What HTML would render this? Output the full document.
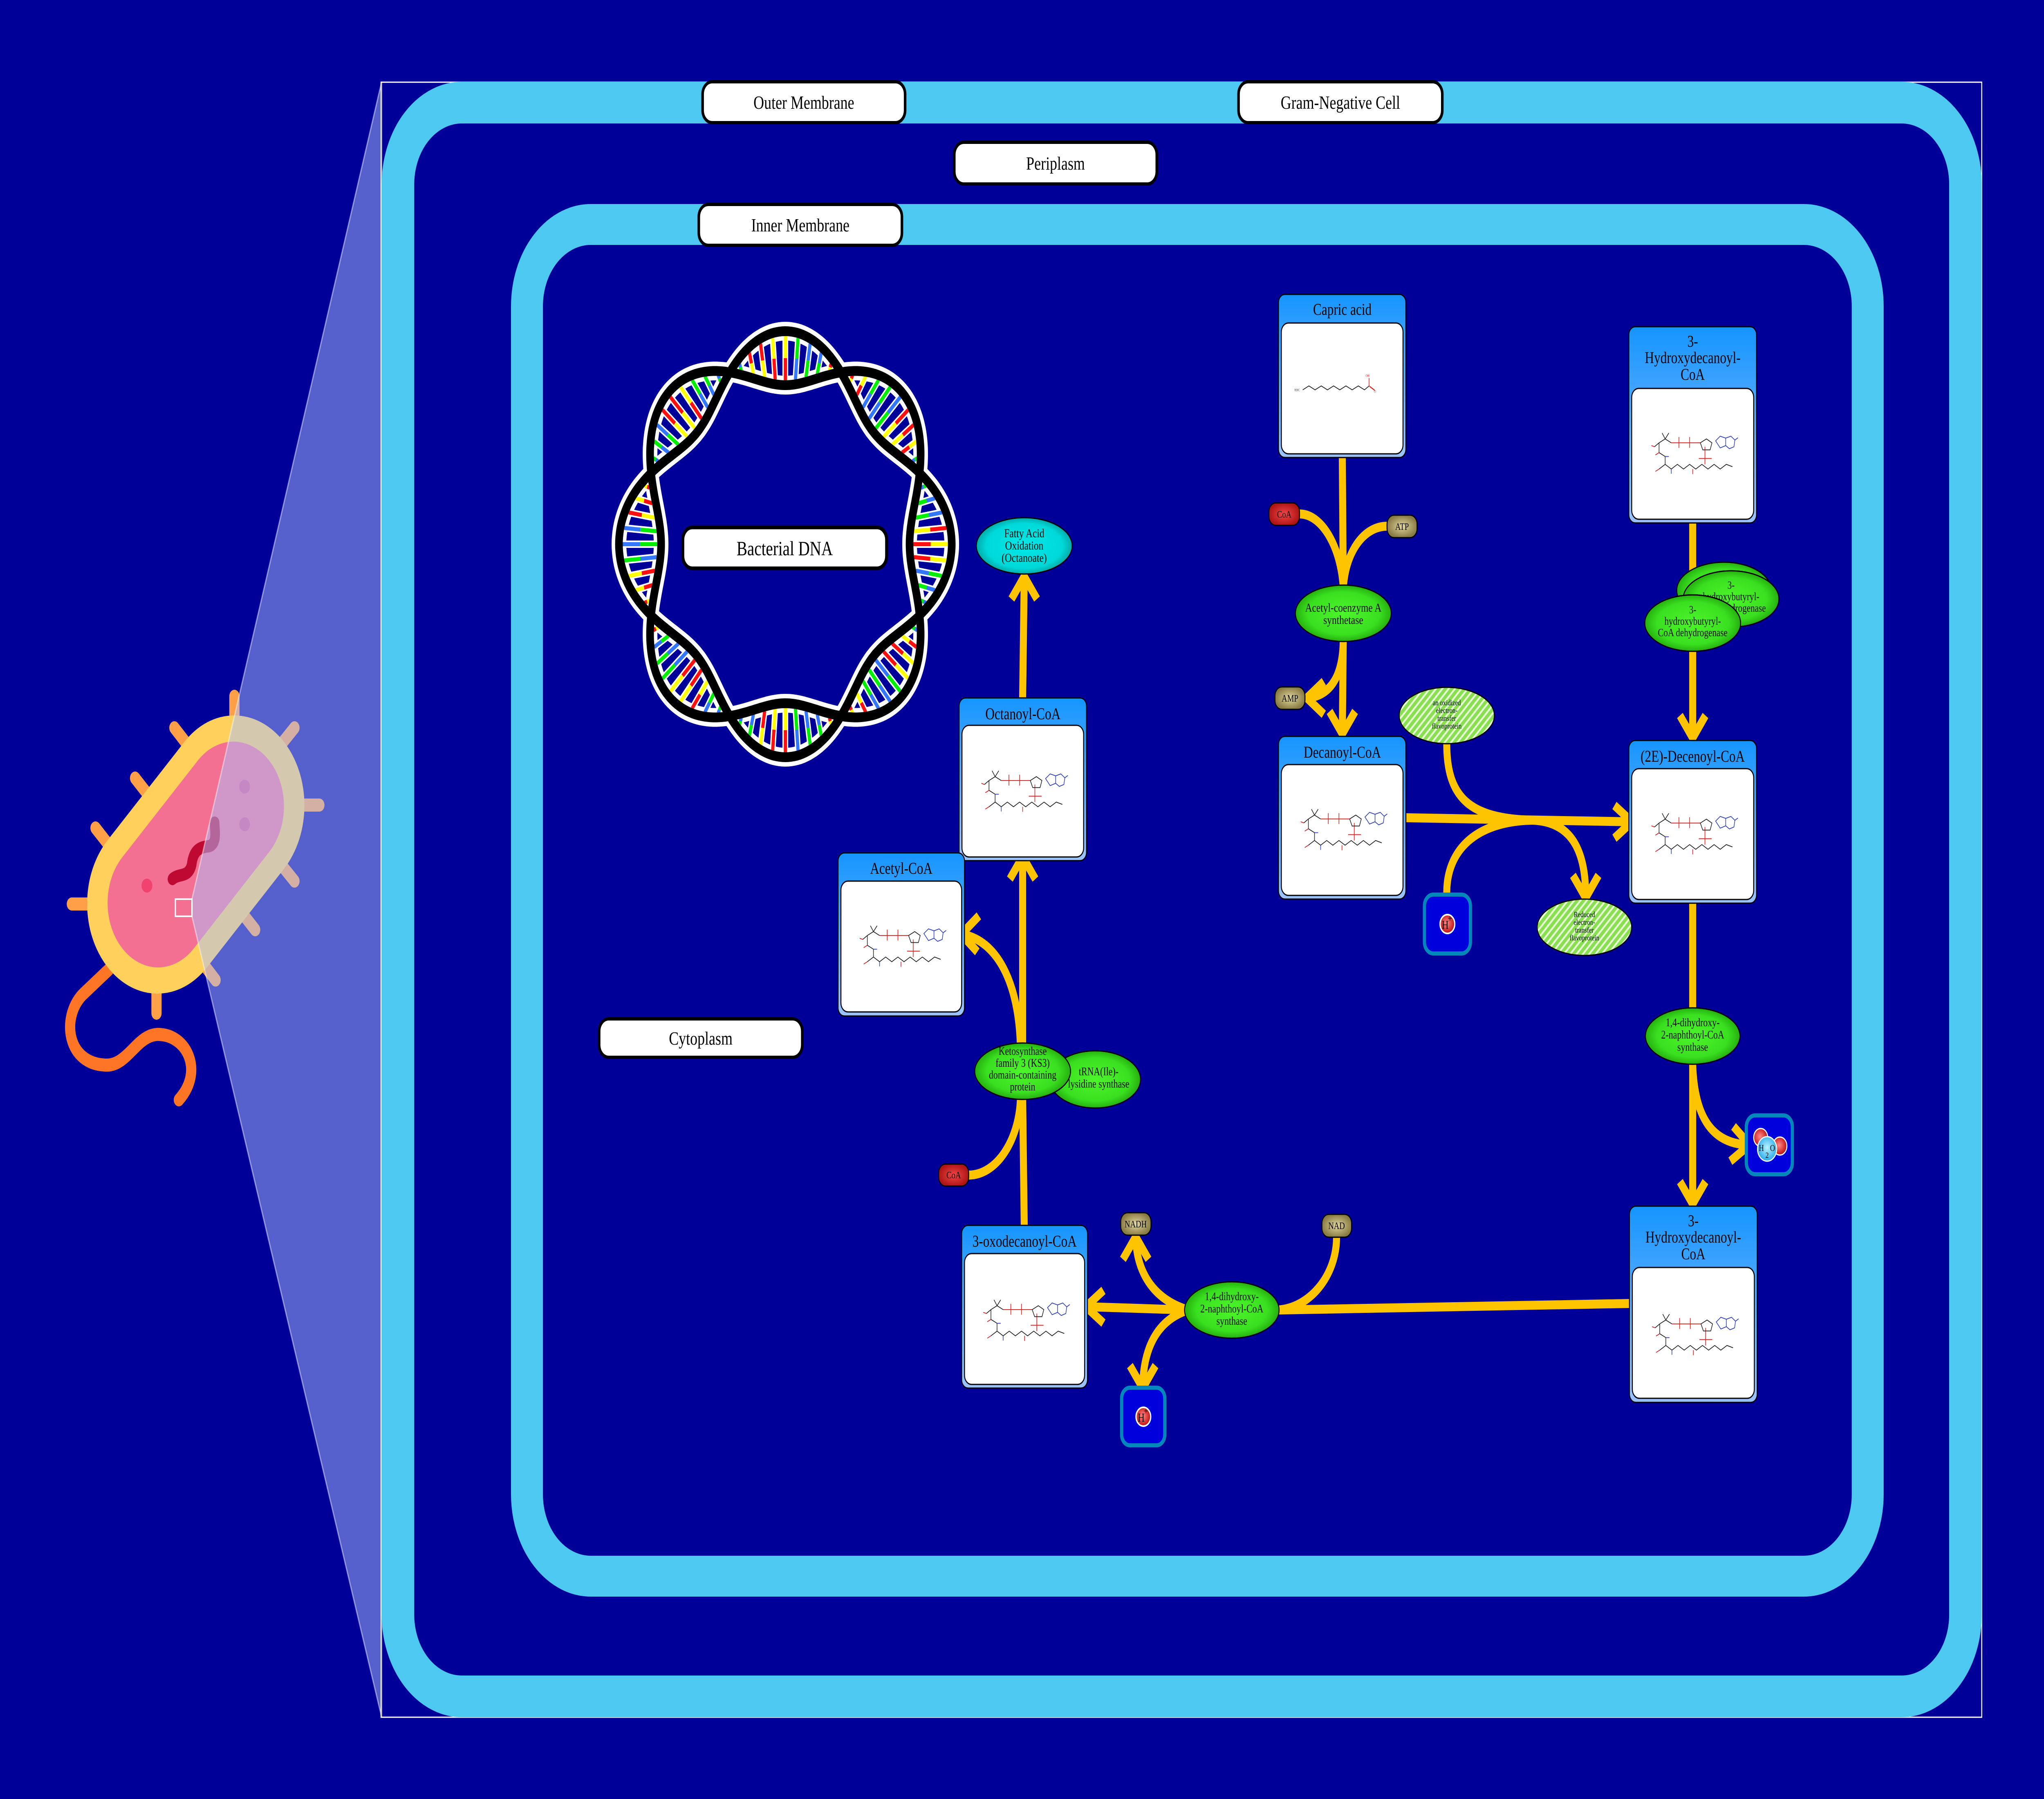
<!DOCTYPE html>
<html><head><meta charset="utf-8">
<style>
html,body{margin:0;padding:0;background:#000099;overflow:hidden;width:100%;height:100%;}
svg{display:block;width:100vw;height:100vh;}
text{font-family:"Liberation Serif",serif;fill:#000;}
</style></head>
<body>
<svg id="S" viewBox="0 0 6400 4400" preserveAspectRatio="none" xmlns="http://www.w3.org/2000/svg">
<defs>
 <linearGradient id="boxg" x1="0" y1="0" x2="0" y2="1">
  <stop offset="0" stop-color="#1595FF"/><stop offset="1" stop-color="#9CC3FF"/>
 </linearGradient>
 <radialGradient id="grn" cx="0.5" cy="0.5" r="0.5">
  <stop offset="0" stop-color="#4CF52A"/><stop offset="0.75" stop-color="#3AE020"/><stop offset="1" stop-color="#26B010"/>
 </radialGradient>
 <radialGradient id="cyn" cx="0.5" cy="0.5" r="0.5">
  <stop offset="0" stop-color="#00E8E8"/><stop offset="0.8" stop-color="#00D8D8"/><stop offset="1" stop-color="#00AAAA"/>
 </radialGradient>
 <radialGradient id="red" cx="0.5" cy="0.5" r="0.5">
  <stop offset="0" stop-color="#F04848"/><stop offset="1" stop-color="#B01515"/>
 </radialGradient>
 <radialGradient id="tan" cx="0.5" cy="0.5" r="0.5">
  <stop offset="0" stop-color="#E2D8A0"/><stop offset="1" stop-color="#8A7C45"/>
 </radialGradient>
 <radialGradient id="ball" cx="0.45" cy="0.45" r="0.55">
  <stop offset="0" stop-color="#FF8888"/><stop offset="1" stop-color="#C01010"/>
 </radialGradient>
 <radialGradient id="cball" cx="0.5" cy="0.45" r="0.55">
  <stop offset="0" stop-color="#B8F4FF"/><stop offset="1" stop-color="#2AA8E8"/>
 </radialGradient>
 <pattern id="hatch" width="14" height="14" patternUnits="userSpaceOnUse" patternTransform="rotate(-45)">
  <rect width="14" height="14" fill="#88E050"/><rect width="14" height="5" fill="#E8FFD8"/>
 </pattern>
 <symbol id="mol" viewBox="0 0 300 140">
  <g fill="none" stroke-width="2">
   <path d="M25,55 L40,45 L60,35 L80,45 M60,35 L50,20 M60,35 L72,20 M40,45 L40,70 L60,80 L60,100 L40,112 M60,100 L80,112 L100,100 L120,112 L140,100 L160,112 L180,100 L200,112 L220,100 L240,112 L260,100 L280,106" stroke="#222"/>
   <path d="M80,45 L175,45 M105,30 L105,58 M140,30 L140,58 M25,55 L15,52 M40,70 L28,76 M40,112 L28,118 M150,112 L150,125 M190,55 L190,85 L170,85 M190,85 L212,85 M190,85 L190,100" stroke="#E02020"/>
   <path d="M175,45 L195,35 L213,45 L207,63 L183,63 Z" stroke="#222"/>
   <path d="M225,40 L240,28 L258,33 L258,52 L240,58 Z M258,33 L275,28 L288,38 L285,55 L270,60 L258,52 M288,38 L298,32 M60,80 L72,80 M80,112 L80,124" stroke="#3040C0"/>
  </g>
 </symbol>
 <symbol id="capric" viewBox="0 0 300 80">
  <g fill="none" stroke-width="2">
   <path d="M30,55 L50,45 L70,55 L90,45 L110,55 L130,45 L150,55 L170,45 L190,55 L210,45 L230,55 L245,45" stroke="#222"/>
   <path d="M245,45 L245,25 M245,45 L262,55 M247,47 L264,57" stroke="#E02020"/>
  </g>
  <text x="12" y="58" font-size="9" style="fill:#222">H3C</text>
  <text x="240" y="22" font-size="9" style="fill:#E02020">OH</text>
  <text x="264" y="62" font-size="9" style="fill:#E02020">O</text>
 </symbol>
</defs>

<rect x="0" y="0" width="6400" height="4400" fill="#000099"/>

<!-- Bacterium on the left -->
<g stroke="#FFA048" stroke-width="32" stroke-linecap="round">
 <line x1="734" y1="1703" x2="734" y2="1830"/>
 <line x1="546" y1="1780" x2="620" y2="1855"/>
 <line x1="423" y1="1903" x2="500" y2="1980"/>
 <line x1="299" y1="2025" x2="376" y2="2102"/>
 <line x1="225" y1="2211" x2="330" y2="2211"/>
 <line x1="490" y1="2478" x2="490" y2="2380"/>
 <line x1="1000" y1="1969" x2="900" y2="1969"/>
 <line x1="922" y1="1780" x2="850" y2="1850"/>
 <line x1="922" y1="2155" x2="850" y2="2085"/>
 <line x1="799" y1="2274" x2="720" y2="2195"/>
 <line x1="675" y1="2397" x2="600" y2="2320"/>
</g>
<path d="M340,2372 L258,2433 C190,2490 210,2605 335,2605 C400,2605 430,2530 495,2530 C585,2530 640,2620 560,2690" fill="none" stroke="#FF7526" stroke-width="32" stroke-linecap="round"/>
<g transform="translate(613,2090) rotate(-45)">
 <rect x="-390" y="-220" width="780" height="440" rx="220" fill="#FFD15C"/>
 <rect x="-325" y="-158" width="650" height="316" rx="158" fill="#F47093"/>
</g>
<circle cx="460" cy="2166" r="17" fill="#F0436D"/>
<circle cx="766" cy="1924" r="17" fill="#E0508A"/>
<circle cx="766" cy="2016" r="17" fill="#E0508A"/>
<path d="M540,2150 C560,2135 590,2148 600,2115 C605,2082 622,2072 652,2070 C682,2066 672,2030 672,2012" fill="none" stroke="#BE0A32" stroke-width="30" stroke-linecap="round"/>
<polygon points="601,2199 1195,200 1195,4200 601,2241" fill="rgba(170,192,255,0.5)" stroke="rgba(255,255,255,0.45)" stroke-width="4"/>
<rect x="549" y="2199" width="52" height="42" fill="none" stroke="#fff" stroke-width="4"/>

<!-- Frame & membranes -->
<rect x="1193" y="201" width="5012" height="3999" fill="none" stroke="#fff" stroke-width="3"/>
<rect x="1246" y="251" width="4908" height="3898" rx="200" fill="none" stroke="#4DC8F0" stroke-width="102"/>
<rect x="1650" y="549" width="4198" height="3306" rx="200" fill="none" stroke="#4DC8F0" stroke-width="100"/>

<!-- Compartment labels -->
<g font-size="46" text-anchor="middle">
 <rect x="2200" y="200" width="634" height="100" rx="30" fill="#fff" stroke="#000" stroke-width="8"/>
 <text x="2517" y="266">Outer Membrane</text>
 <rect x="3878" y="200" width="638" height="100" rx="30" fill="#fff" stroke="#000" stroke-width="8"/>
 <text x="4197" y="266">Gram-Negative Cell</text>
 <rect x="2988" y="348" width="634" height="102" rx="30" fill="#fff" stroke="#000" stroke-width="8"/>
 <text x="3305" y="415">Periplasm</text>
 <rect x="2188" y="500" width="636" height="100" rx="30" fill="#fff" stroke="#000" stroke-width="8"/>
 <text x="2506" y="566">Inner Membrane</text>
 <rect x="1876" y="2492" width="636" height="94" rx="30" fill="#fff" stroke="#000" stroke-width="8"/>
 <text x="2194" y="2555">Cytoplasm</text>
</g>

<!-- DNA (generated) -->
<g id="dna"></g>
<rect x="2138" y="1290" width="638" height="100" rx="30" fill="#fff" stroke="#000" stroke-width="9"/>
<text x="2457" y="1358" font-size="50" text-anchor="middle">Bacterial DNA</text>

<!-- Edges -->
<g fill="none" stroke="#FFC400" stroke-width="22" stroke-linejoin="miter" stroke-linecap="butt">
 <path d="M4203,1119 L4206,1440"/>
 <path d="M4069,1257 C4140,1257 4200,1340 4206,1440"/>
 <path d="M4343,1287 C4270,1287 4212,1350 4206,1440"/>
 <path d="M4206,1560 L4203,1795"/>
 <polyline points="4163,1740 4203,1795 4243,1740"/>
 <path d="M4206,1560 C4206,1650 4170,1700 4095,1707"/>
 <polyline points="4145,1667 4092,1707 4145,1747"/>
 <path d="M4402,2000 L5108,2010"/>
 <polyline points="5055,1970 5110,2010 5055,2050"/>
 <path d="M4530,1819 C4530,1950 4600,2003 4800,2006"/>
 <path d="M4530,2183 C4530,2080 4620,2008 4800,2006"/>
 <path d="M4800,2006 C4920,2010 4965,2080 4965,2192"/>
 <polyline points="4925,2141 4965,2196 5005,2141"/>
 <path d="M5300,1279 L5300,1805"/>
 <polyline points="5260,1750 5300,1805 5340,1750"/>
 <path d="M5300,2209 L5300,2945"/>
 <polyline points="5260,2890 5300,2945 5340,2890"/>
 <path d="M5300,2603 C5305,2720 5350,2795 5470,2800"/>
 <polyline points="5428,2755 5478,2800 5418,2840"/>
 <path d="M5105,3188 L4005,3204"/>
 <path d="M4185,3026 C4185,3120 4100,3200 4000,3204"/>
 <path d="M3720,3204 L3402,3196"/>
 <polyline points="3455,3156 3400,3196 3455,3236"/>
 <path d="M3720,3204 C3620,3180 3560,3120 3556,3028"/>
 <polyline points="3516,3080 3556,3025 3596,3080"/>
 <path d="M3720,3204 C3620,3230 3580,3300 3578,3392"/>
 <polyline points="3538,3340 3578,3395 3618,3340"/>
 <path d="M3207,2997 L3202,2680"/>
 <path d="M3202,2560 L3202,2097"/>
 <polyline points="3162,2150 3202,2095 3242,2150"/>
 <path d="M3033,2874 C3120,2874 3190,2790 3195,2689"/>
 <path d="M3195,2560 C3190,2400 3120,2300 3012,2285"/>
 <polyline points="3065,2240 3010,2285 3060,2328"/>
 <path d="M3202,1707 L3207,1412"/>
 <polyline points="3167,1465 3207,1410 3247,1465"/>
</g>

<!-- Entity boxes -->
<g font-size="40" text-anchor="middle">
 <rect x="4003" y="720" width="399" height="399" rx="20" fill="url(#boxg)" stroke="#000" stroke-width="3"/>
 <rect x="4012" y="790" width="381" height="320" rx="22" fill="#fff" stroke="#000" stroke-width="3"/>
 <text x="4203" y="770">Capric acid</text>
 <use href="#capric" x="4050" y="900" width="290" height="78"/>
 <rect x="4003" y="1801" width="399" height="398" rx="20" fill="url(#boxg)" stroke="#000" stroke-width="3"/>
 <rect x="4012" y="1870" width="381" height="320" rx="22" fill="#fff" stroke="#000" stroke-width="3"/>
 <text x="4203" y="1853">Decanoyl-CoA</text>
 <use href="#mol" x="4058" y="1960" width="288" height="134"/>
 <rect x="3003" y="1707" width="399" height="398" rx="20" fill="url(#boxg)" stroke="#000" stroke-width="3"/>
 <rect x="3012" y="1774" width="381" height="322" rx="22" fill="#fff" stroke="#000" stroke-width="3"/>
 <text x="3203" y="1759">Octanoyl-CoA</text>
 <use href="#mol" x="3058" y="1866" width="288" height="134"/>
 <rect x="2624" y="2086" width="396" height="399" rx="20" fill="url(#boxg)" stroke="#000" stroke-width="3"/>
 <rect x="2633" y="2155" width="378" height="320" rx="22" fill="#fff" stroke="#000" stroke-width="3"/>
 <text x="2822" y="2137">Acetyl-CoA</text>
 <use href="#mol" x="2676" y="2245" width="290" height="134"/>
 <rect x="3011" y="2997" width="394" height="398" rx="20" fill="url(#boxg)" stroke="#000" stroke-width="3"/>
 <rect x="3020" y="3066" width="376" height="320" rx="22" fill="#fff" stroke="#000" stroke-width="3"/>
 <text x="3208" y="3049">3-oxodecanoyl-CoA</text>
 <use href="#mol" x="3064" y="3160" width="288" height="134"/>
 <rect x="5100" y="799" width="400" height="480" rx="20" fill="url(#boxg)" stroke="#000" stroke-width="3"/>
 <rect x="5109" y="950" width="382" height="320" rx="22" fill="#fff" stroke="#000" stroke-width="3"/>
 <text x="5300" y="848">3-</text>
 <text x="5300" y="888">Hydroxydecanoyl-</text>
 <text x="5300" y="929">CoA</text>
 <use href="#mol" x="5156" y="1040" width="288" height="134"/>
 <rect x="5100" y="1811" width="400" height="398" rx="20" fill="url(#boxg)" stroke="#000" stroke-width="3"/>
 <rect x="5109" y="1880" width="382" height="320" rx="22" fill="#fff" stroke="#000" stroke-width="3"/>
 <text x="5300" y="1863">(2E)-Decenoyl-CoA</text>
 <use href="#mol" x="5156" y="1970" width="288" height="134"/>
 <rect x="5102" y="2950" width="400" height="480" rx="20" fill="url(#boxg)" stroke="#000" stroke-width="3"/>
 <rect x="5111" y="3100" width="382" height="320" rx="22" fill="#fff" stroke="#000" stroke-width="3"/>
 <text x="5302" y="2999">3-</text>
 <text x="5302" y="3039">Hydroxydecanoyl-</text>
 <text x="5302" y="3080">CoA</text>
 <use href="#mol" x="5158" y="3195" width="288" height="134"/>
</g>

<!-- Enzymes / ellipses -->
<g stroke="#000" stroke-width="3" text-anchor="middle">
 <ellipse cx="3207" cy="1335" rx="150" ry="69" fill="url(#cyn)"/>
 <ellipse cx="4206" cy="1500" rx="150" ry="69" fill="url(#grn)"/>
 <ellipse cx="4530" cy="1750" rx="149" ry="69" fill="url(#hatch)"/>
 <ellipse cx="4961" cy="2268" rx="148" ry="69" fill="url(#hatch)"/>
 <ellipse cx="5398" cy="1444" rx="148" ry="69" fill="url(#grn)"/>
 <ellipse cx="5420" cy="1465" rx="150" ry="69" fill="url(#grn)"/>
 <ellipse cx="5300" cy="1524" rx="150" ry="69" fill="url(#grn)"/>
 <ellipse cx="5300" cy="2534" rx="148" ry="69" fill="url(#grn)"/>
 <ellipse cx="3429" cy="2640" rx="142" ry="70" fill="url(#grn)"/>
 <ellipse cx="3857" cy="3204" rx="148" ry="69" fill="url(#grn)"/>
</g>
<g text-anchor="middle">
 <g font-size="30"><text x="3207" y="1314">Fatty Acid</text><text x="3207" y="1344">Oxidation</text><text x="3207" y="1374">(Octanoate)</text></g>
 <g font-size="30"><text x="4206" y="1496">Acetyl-coenzyme A</text><text x="4206" y="1526">synthetase</text></g>
 <g font-size="19"><text x="4530" y="1725">an oxidized</text><text x="4530" y="1744">electron-</text><text x="4530" y="1763">transfer</text><text x="4530" y="1782">flavoprotein</text></g>
 <g font-size="19"><text x="4961" y="2243">Reduced</text><text x="4961" y="2262">electron-</text><text x="4961" y="2281">transfer</text><text x="4961" y="2300">flavoprotein</text></g>
 <g font-size="27"><text x="5420" y="1440">3-</text><text x="5420" y="1468">hydroxybutyryl-</text><text x="5420" y="1496">CoA dehydrogenase</text></g>
</g>
<ellipse cx="5300" cy="1524" rx="150" ry="69" fill="url(#grn)" stroke="#000" stroke-width="3"/>
<g text-anchor="middle">
 <g font-size="27"><text x="5300" y="1500">3-</text><text x="5300" y="1528">hydroxybutyryl-</text><text x="5300" y="1556">CoA dehydrogenase</text></g>
 <g font-size="28"><text x="5300" y="2510">1,4-dihydroxy-</text><text x="5300" y="2540">2-naphthoyl-CoA</text><text x="5300" y="2570">synthase</text></g>
 <g font-size="28"><text x="3857" y="3180">1,4-dihydroxy-</text><text x="3857" y="3210">2-naphthoyl-CoA</text><text x="3857" y="3240">synthase</text></g>
 <g font-size="28"><text x="3440" y="2630">tRNA(Ile)-</text><text x="3440" y="2660">lysidine synthase</text></g>
</g>
<ellipse cx="3202" cy="2620" rx="150" ry="69" fill="url(#grn)" stroke="#000" stroke-width="3"/>
<g text-anchor="middle" font-size="28">
 <text x="3202" y="2580">Ketosynthase</text><text x="3202" y="2609">family 3 (KS3)</text><text x="3202" y="2638">domain-containing</text><text x="3202" y="2667">protein</text>
</g>

<!-- Small molecules pills -->
<g stroke="#000" stroke-width="3">
 <rect x="3973" y="1230" width="96" height="55" rx="22" fill="url(#red)"/>
 <rect x="4343" y="1260" width="94" height="55" rx="22" fill="url(#tan)"/>
 <rect x="3992" y="1680" width="94" height="55" rx="22" fill="url(#tan)"/>
 <rect x="2939" y="2847" width="94" height="54" rx="22" fill="url(#red)"/>
 <rect x="3509" y="2966" width="95" height="55" rx="22" fill="url(#tan)"/>
 <rect x="4139" y="2970" width="93" height="56" rx="22" fill="url(#tan)"/>
</g>
<g text-anchor="middle" font-size="24">
 <text x="4021" y="1266">CoA</text>
 <text x="4390" y="1296">ATP</text>
 <text x="4039" y="1716">AMP</text>
 <text x="2986" y="2882">CoA</text>
 <text x="3556" y="3002">NADH</text>
 <text x="4185" y="3006">NAD</text>
</g>

<!-- Ion boxes -->
<g>
 <rect x="4460" y="2188" width="144" height="144" rx="28" fill="#0000DD" stroke="#0088BB" stroke-width="10"/>
 <circle cx="4532" cy="2260" r="23" fill="url(#ball)" stroke="#fff" stroke-width="4"/>
 <text x="4525" y="2272" font-size="30" text-anchor="middle">H</text>
 <text x="4540" y="2254" font-size="24" text-anchor="middle">+</text>

 <rect x="3512" y="3394" width="135" height="141" rx="26" fill="#0000DD" stroke="#0088BB" stroke-width="10"/>
 <circle cx="3580" cy="3465" r="23" fill="url(#ball)" stroke="#fff" stroke-width="4"/>
 <text x="3573" y="3477" font-size="30" text-anchor="middle">H</text>
 <text x="3588" y="3459" font-size="24" text-anchor="middle">+</text>

 <rect x="5468" y="2728" width="144" height="144" rx="28" fill="#0000DD" stroke="#0088BB" stroke-width="10"/>
 <circle cx="5513" cy="2782" r="22" fill="url(#ball)" stroke="#fff" stroke-width="3"/>
 <circle cx="5573" cy="2803" r="22" fill="url(#ball)" stroke="#fff" stroke-width="3"/>
 <circle cx="5533" cy="2810" r="30" fill="url(#cball)" stroke="#fff" stroke-width="3"/>
 <text x="5515" y="2815" font-size="22" text-anchor="middle">H</text>
 <text x="5533" y="2832" font-size="20" text-anchor="middle">2</text>
 <text x="5550" y="2815" font-size="22" text-anchor="middle">O</text>
</g>
</svg>
<script>
(function(){
 var ns="http://www.w3.org/2000/svg",g=document.getElementById("dna");
 var cx=2459,cy=1331,R=455,A=66;
 function pt(r,t){return [cx+r*Math.sin(t),cy-r*Math.cos(t)];}
 function strand(s){var d="";for(var i=0;i<=360;i++){var t=i*Math.PI/180;var r=R+s*A*Math.cos(4*t);var p=pt(r,t);d+=(i?"L":"M")+p[0].toFixed(1)+","+p[1].toFixed(1);}return d+"Z";}
 function el(n,a){var e=document.createElementNS(ns,n);for(var k in a)e.setAttribute(k,a[k]);g.appendChild(e);return e;}
 el("path",{d:strand(1),fill:"none",stroke:"#fff","stroke-width":46});
 el("path",{d:strand(-1),fill:"none",stroke:"#fff","stroke-width":46});
 var cols=[["#FF1010","#FFFF00"],["#FFFF00","#FF1010"],["#00EE00","#3377FF"],["#3377FF","#00EE00"]];
 var k=0;
 for(var i=0;i<360;i+=4.5){
  var t=i*Math.PI/180;var c=Math.cos(4*t);
  if(Math.abs(c)<0.25)continue;
  var r1=R+A*c,r2=R-A*c;var lo=Math.min(r1,r2)+12,hi=Math.max(r1,r2)-12;
  var m=(lo+hi)/2;var a=pt(lo,t),b=pt(m,t),e=pt(hi,t);
  el("line",{x1:a[0],y1:a[1],x2:e[0],y2:e[1],stroke:"#fff","stroke-width":18});
  var cc=cols[(k*7+Math.floor(i/13))%4];k++;
  el("line",{x1:a[0],y1:a[1],x2:b[0],y2:b[1],stroke:cc[0],"stroke-width":10});
  el("line",{x1:b[0],y1:b[1],x2:e[0],y2:e[1],stroke:cc[1],"stroke-width":10});
 }
 el("path",{d:strand(1),fill:"none",stroke:"#000","stroke-width":24});
 el("path",{d:strand(-1),fill:"none",stroke:"#000","stroke-width":24});
})();
</script>
</body></html>
